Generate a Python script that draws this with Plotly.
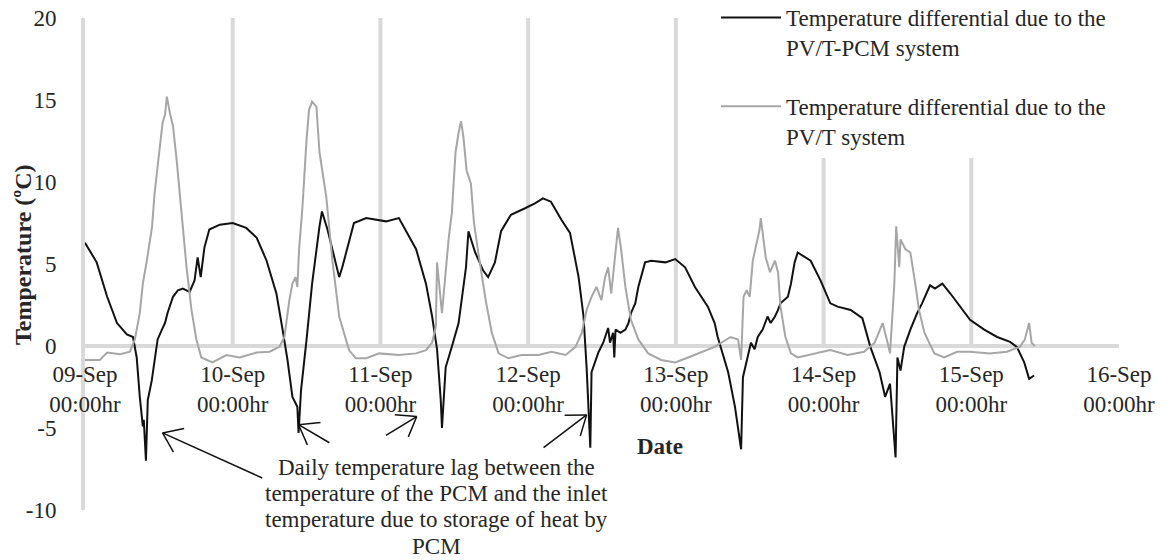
import math
import pandas as pd
import plotly.graph_objects as go

# ---- data (hours since 09-Sep 00:00, temperature differential in ºC) ----
pcm_hours = [0, 1.9, 3.6, 5.2, 6.8, 7.8, 8.4, 8.9, 9.4, 9.55, 9.9, 10.2, 10.85, 11.3, 11.8, 12.5, 13.0,
             13.4, 14.3, 15.1, 15.9, 17.0, 17.8, 18.3, 18.8, 19.4, 20.2, 21.9, 24.0, 26.2, 27.9,
             29.5, 31.1, 32.1, 32.9, 33.7, 34.5, 34.7, 35.1, 36.0, 36.9, 38.1, 38.5, 39.4, 40.2,
             41.3, 41.8, 42.9, 43.7, 45.7, 47.5, 48.9, 51.0, 53.8, 55.4, 56.4, 57.2, 57.8, 58.0,
             58.6, 59.6, 60.7, 61.9, 62.3, 63.4, 64.7, 65.5, 66.6, 67.6, 69.2, 71.5, 73.1, 74.4,
             75.7, 77.4, 78.8, 80.2, 81.0, 81.5, 82.1, 82.3, 82.6, 83.4, 84.2, 85.0, 85.3, 85.8,
             86.0, 86.2, 87.0, 87.8, 88.3, 88.7, 89.4, 89.9, 91.0, 92.0, 94.3, 95.9, 97.5, 99.1,
             101.2, 102.3, 102.8, 104.5, 105.6, 106.6, 106.9, 107.7, 108.2, 108.8, 109.3, 110.1,
             110.9, 111.4, 112.1, 112.6, 113.0, 114.2, 114.7, 115.3, 115.8,
             117.9, 119.5, 121.1, 122.3, 124.4, 126.3, 127.6, 129.1, 130.0, 130.8, 131.7, 132.0,
             132.5, 133.1, 134.1, 135.2, 136.0, 137.3, 138.1, 139.3, 140.6, 142.2, 143.8, 146.1,
             148.2, 150.3, 151.4, 152.6, 153.4, 154.2]
pcm_values = [6.3, 5.1, 3.0, 1.4, 0.7, 0.55, -0.7, -3.1, -4.9, -4.5, -7.0, -3.3, -2.1, -1.0, 0.4, 1.0, 1.4,
              2.0, 3.0, 3.4, 3.5, 3.3, 4.0, 5.4, 4.2, 6.0, 7.1, 7.4, 7.5, 7.2, 6.6,
              5.2, 3.2, 1.0, -0.85, -3.1, -3.7, -5.3, -2.7, 0.4, 3.8, 7.3, 8.2, 7.1, 5.9,
              4.2, 4.8, 6.3, 7.5, 7.8, 7.7, 7.6, 7.8, 5.9, 3.8, 1.8, -0.2, -3.3, -5.0,
              -1.3, -0.05, 1.4, 4.8, 7.0, 5.7, 4.6, 4.2, 5.1, 7.0, 8.0, 8.4, 8.7, 9.0,
              8.8, 7.7, 6.9, 4.2, 1.8, -1.3, -6.2, -1.6, -1.3, -0.4, 0.2, 1.1, 0.2, 0.8,
              -0.7, 1.0, 0.8, 1.0, 1.4, 2.0, 2.6, 3.6, 5.1, 5.2, 5.1, 5.3, 4.8, 3.6,
              2.4, 1.4, 0.55, -1.6, -3.7, -6.3, -1.9, -0.7, 0.2, -0.2, 0.55, 1.0,
              1.8, 1.4, 1.8, 2.2, 2.6, 3.0, 3.8, 5.1, 5.7,
              5.2, 4.0, 2.6, 2.4, 2.2, 1.7, -0.05, -1.6, -3.1, -2.3, -6.8, -0.7,
              -1.5, -0.05, 1.0, 2.0, 2.6, 3.7, 3.5, 3.8, 3.2, 2.4, 1.6, 1.0,
              0.55, 0.25, -0.05, -1.0, -2.0, -1.8]

pvt_hours = [0, 2.4, 3.6, 5.7, 7.3, 8.1, 8.9, 9.4, 10.0, 10.9, 11.3, 12.1, 12.6, 13.0, 13.3, 13.8,
             14.3, 14.9, 15.4, 15.7, 16.5, 17.3, 18.1, 18.9, 20.7, 23.0, 25.1, 27.9, 30.0, 31.6,
             32.4, 33.2, 33.7, 34.2, 34.5, 34.8, 35.3, 36.0, 36.4, 36.9, 37.6, 38.1, 38.5, 39.2,
             40.2, 41.3, 42.9, 44.0, 45.7, 47.8, 51.0, 53.8, 55.4, 56.4, 57.0, 57.2, 58.0, 58.6,
             59.1, 59.6, 60.2, 60.7, 61.1, 61.5, 62.0, 62.7, 63.2, 63.9, 64.4, 65.1, 66.1, 67.2,
             68.8, 70.9, 73.7, 75.8, 78.1, 79.7, 80.7, 81.5, 82.3, 83.1, 83.9, 84.5, 85.0, 85.5,
             86.6, 87.1, 87.8, 88.7, 89.9, 91.5, 93.6, 95.9, 98.0, 99.6, 102.3, 104.9, 106.1,
             106.6, 107.0, 107.5, 108.0, 108.5, 109.0, 109.6, 109.8, 110.6, 111.3, 112.1, 112.6,
             113.0, 113.8, 114.7, 115.8,
             119.0, 121.1, 123.9, 126.6, 128.3, 129.6, 130.4, 130.8, 131.5, 131.8, 132.3, 132.5,
             133.3, 134.1, 134.9, 135.5, 136.4, 138.0, 139.6, 141.7, 143.8, 147.0, 149.8, 151.9,
             152.7, 153.4, 153.8, 154.3]
pvt_values = [-0.85, -0.85, -0.4, -0.5, -0.35, 0.4, 2.0, 3.8, 5.1, 7.3, 9.3, 12.1, 13.6, 14.1, 15.2, 14.2,
              13.4, 11.3, 9.3, 7.9, 4.8, 2.2, 0.4, -0.7, -1.0, -0.55, -0.7, -0.4, -0.35, -0.05,
              0.55, 2.8, 3.8, 4.2, 3.6, 6.0, 8.3, 12.6, 14.4, 14.9, 14.6, 11.8, 10.7, 9.1,
              5.2, 1.8, -0.25, -0.75, -0.75, -0.45, -0.55, -0.45, -0.25, 0.2, 1.2, 5.1, 2.0, 4.8,
              6.6, 8.1, 11.8, 13.0, 13.7, 12.7, 10.7, 9.9, 7.5, 5.7, 4.5, 2.8, 0.8, -0.45,
              -0.75, -0.55, -0.55, -0.35, -0.55, -0.05, 0.8, 2.2, 3.0, 3.6, 2.8, 4.2, 4.8, 3.2,
              7.2, 5.9, 3.6, 1.6, 0.4, -0.45, -0.85, -1.0, -0.7, -0.45, -0.05, 0.55, 0.4,
              -0.85, 3.0, 3.4, 3.0, 5.2, 6.0, 7.1, 7.8, 5.4, 4.5, 5.2, 4.5,
              2.4, 0.55, -0.45, -0.7,
              -0.45, -0.25, -0.55, -0.35, 0.2, 1.4, 0.2, -0.45, 3.8, 7.3, 4.8, 6.5,
              5.9, 5.7, 3.8, 2.2, 0.8, -0.45, -0.7, -0.35, -0.35, -0.45, -0.35, -0.05,
              0.4, 1.4, 0.2, 0.0]

day_labels = ["09-Sep", "10-Sep", "11-Sep", "12-Sep", "13-Sep", "14-Sep", "15-Sep", "16-Sep"]
y_ticks = [-10, -5, 0, 5, 10, 15, 20]
series_names = ["Temperature differential due to the<br>PV/T-PCM system",
                "Temperature differential due to the<br>PV/T system"]
note_lines = ["Daily temperature lag between the",
              "temperature of the PCM and the inlet",
              "temperature due to storage of heat by",
              "PCM"]

# arrows: head (hours, value) and tail (hours, value)
arrow_heads_h = [12.6, 34.7, 53.9, 81.5]
arrow_heads_v = [-5.3, -4.8, -4.3, -4.2]
arrow_tails_h = [28.8, 39.7, 48.9, 74.5]
arrow_tails_v = [-8.05, -5.9, -5.45, -6.2]

start = pd.Timestamp("2015-09-09 00:00")
to_t = lambda hrs: [start + pd.Timedelta(hours=h) for h in hrs]
day_ticks = [start + pd.Timedelta(days=i) for i in range(len(day_labels))]

FONT = "Liberation Serif"
TXT = "#262626"
GRID = "#d9d9d9"
H = 510.0                      # paper height in px (margin t=0, b=50)
DOM_TOP = (H - 18) / H         # plot area top at 18 px
py = lambda p: (H - p) / H     # pixel row -> paper y
px = lambda p: (p - 85) / 1034.0
X_SCALE = 1034.0 / (24 * 7)    # px per hour
Y_SCALE = 492.0 / 30           # px per ºC

fig = go.Figure()
fig.add_trace(go.Scatter(x=to_t(pcm_hours), y=pcm_values, mode="lines", name=series_names[0],
                         legendgroup="a", line=dict(color="#111111", width=2)))
fig.add_trace(go.Scatter(x=to_t(pvt_hours), y=pvt_values, mode="lines", name=series_names[1],
                         legendgroup="b", line=dict(color="#a6a6a6", width=2)))

# vertical gridlines from 0 up to the top
for d in day_ticks[1:-1]:
    fig.add_shape(type="line", x0=d, x1=d, y0=0, y1=20, xref="x", yref="y",
                  line=dict(color=GRID, width=4), layer="below")

# open-headed arrows drawn as thin lines
ARM = 22.0
ANG = math.radians(36)
for hh, hv, th, tv in zip(arrow_heads_h, arrow_heads_v, arrow_tails_h, arrow_tails_v):
    dx = (th - hh) * X_SCALE
    dy = -(tv - hv) * Y_SCALE
    n = math.hypot(dx, dy)
    ux, uy = dx / n, dy / n
    arms = []
    for s in (1, -1):
        c, sn = math.cos(s * ANG), math.sin(s * ANG)
        ax_ = ux * c - uy * sn
        ay_ = ux * sn + uy * c
        arms.append((hh + ax_ * ARM / X_SCALE, hv - ay_ * ARM / Y_SCALE))
    segs = [((th, tv), (hh, hv)), ((hh, hv), arms[0]), ((hh, hv), arms[1])]
    for (h0, v0), (h1, v1) in segs:
        fig.add_shape(type="line", x0=to_t([h0])[0], y0=v0, x1=to_t([h1])[0], y1=v1,
                      xref="x", yref="y", line=dict(color="#111111", width=1.5), layer="above")

for line, row in zip(note_lines, [467, 493, 519, 546]):
    fig.add_annotation(text=line, xref="paper", yref="paper", x=px(436), y=py(row),
                       xanchor="center", yanchor="middle", showarrow=False,
                       font=dict(family=FONT, size=23, color=TXT))
fig.add_annotation(text="<b>Date</b>", xref="paper", yref="paper", x=px(660), y=py(446),
                   xanchor="center", yanchor="middle", showarrow=False,
                   font=dict(family=FONT, size=23, color=TXT))
fig.add_annotation(text="<b>Temperature (ºC)</b>", xref="paper", yref="paper", x=px(23), y=py(255),
                   xanchor="center", yanchor="middle", textangle=-90, showarrow=False,
                   font=dict(family=FONT, size=24, color=TXT))

fig.update_layout(
    template="none",
    width=1167, height=560,
    margin=dict(l=85, r=48, t=0, b=50, autoexpand=False),
    plot_bgcolor="white", paper_bgcolor="white",
    font=dict(family=FONT, size=22, color=TXT),
    showlegend=True,
    legend=dict(x=px(716), y=1 + 4 / H, xanchor="left", yanchor="top", bgcolor="white",
                traceorder="grouped", tracegroupgap=26, itemwidth=60, valign="top",
                borderwidth=0, font=dict(family=FONT, size=23, color=TXT)),
    xaxis=dict(type="date", range=[day_ticks[0], day_ticks[-1]], tickmode="array",
               tickvals=day_ticks, ticktext=[f"{l}<br>00:00hr" for l in day_labels],
               anchor="free", position=DOM_TOP / 3, showline=True, linecolor=GRID, linewidth=4,
               showgrid=False, zeroline=False, ticks="", layer="below traces", automargin=False,
               ticklabelstandoff=6, tickfont=dict(family=FONT, size=23, color=TXT)),
    yaxis=dict(domain=[0, DOM_TOP], range=[-10, 20], tickmode="array", tickvals=y_ticks,
               ticktext=[str(v) for v in y_ticks], showline=True, linecolor=GRID, linewidth=4,
               showgrid=False, zeroline=False, ticks="", layer="below traces", automargin=False,
               ticklabelstandoff=20, tickfont=dict(family=FONT, size=23, color=TXT)),
)

fig.write_html("out.html")
